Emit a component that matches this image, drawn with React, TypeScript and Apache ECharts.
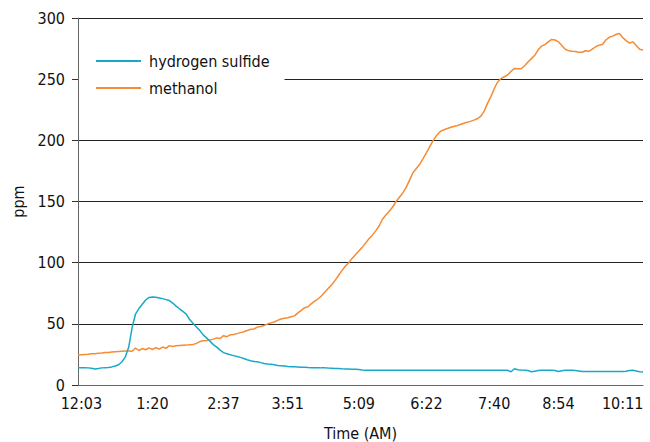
import React, { useEffect, useRef } from "react";
import * as echarts from "echarts";

const seriesNames = ["hydrogen sulfide", "methanol"];

const tickLabels = ["12:03", "1:20", "2:37", "3:51", "5:09", "6:22", "7:40", "8:54", "10:11"];
const tickSamples = [1, 22, 43, 62, 83, 103, 123, 142, 161];

const hydrogenSulfide = [
  14.2, 14.2, 14.2, 14, 13.6, 13.1, 13.5, 14, 14.2, 14.4,
  14.8, 15.5, 16.5, 19, 23, 31, 47, 58, 62.5, 66,
  69.5, 71.6, 72, 71.8, 71.2, 70.6, 69.8, 69, 67, 64.5,
  62.3, 60.2, 58, 53.5, 50.5, 47.5, 44.5, 41, 38.5, 35.8,
  33, 31, 28.5, 26.5, 25.5, 24.7, 24, 23.3, 22.6, 21.6,
  20.6, 19.8, 19.3, 19, 18.3, 17.6, 17.1, 16.9, 16.5, 16,
  15.8, 15.5, 15.2, 15, 15, 14.8, 14.5, 14.5, 14.3, 14.2,
  14.2, 14.2, 14, 14, 13.8, 13.7, 13.5, 13.4, 13.2, 13.1,
  13, 12.9, 12.8, 12.6, 12.3, 12.1, 12, 12, 12, 12,
  12, 12, 12, 12, 12, 12, 12, 12, 12, 12,
  12, 12, 12, 12, 12, 12, 12, 12, 12, 12,
  12, 12, 12, 12, 12, 12, 12, 12, 12, 12,
  12, 12, 12, 12, 12, 12, 12, 12, 10.8, 13.3,
  12.5, 12.2, 12, 11.8, 10.8, 11.3, 11.8, 12, 12, 12,
  12, 11.8, 11.1, 11.6, 12, 12, 12, 11.9, 11.5, 11.1,
  11, 11, 11, 11, 11, 11, 11, 11, 11, 11,
  11, 11, 11.2, 11.8, 12, 11.4, 10.9, 10.7,
];

const methanol = [
  24.5, 24.8, 25, 25.2, 25.5, 25.6, 26, 26.2, 26.5, 26.6,
  27, 27.2, 27.4, 27.6, 27.8, 27.8, 27.6, 30.2, 28.2, 29.8,
  28.8, 30.4, 29, 30.6, 29.4, 31, 30, 32.2, 31.5, 32,
  32.3, 32.5, 32.6, 33, 33.2, 34, 35.5, 36.2, 36.4, 36.8,
  37.5, 38.5, 38, 40.3, 39.5, 41, 41.3, 42, 42.8, 43.5,
  44.5, 45.5, 45.8, 47.3, 47.8, 48.7, 49.8, 50.8, 51.5, 52.8,
  54, 54.6, 55, 55.8, 56.5, 59, 61, 63.2, 64, 66.5,
  68.5, 70.5, 73, 76, 79, 82, 85.5, 89.5, 93.5, 97,
  100, 103.5, 106.5, 109.5, 112.5, 116, 119.5, 122.5, 126, 130,
  135.5, 139, 142, 145.5, 150, 153.5, 157, 161.5, 167.5, 173.5,
  177, 180.5, 185, 190, 195, 200, 204, 207, 208.5, 209.5,
  210.5, 211.3, 212, 213, 214, 214.7, 215.5, 216.5, 217.6, 219.5,
  223.5, 230, 235.5, 242, 247.5, 250.5, 252, 253.5, 256.5, 258.8,
  258.5, 258.5, 261, 264, 266.8, 269.5, 274, 277, 278.2, 280.5,
  282.5, 282, 280.5, 277.5, 274.5, 273.3, 272.8, 272.6, 272, 272,
  273.2, 272.8, 274.5, 276.5, 277.8, 278.3, 282, 284.2, 285.2, 286.5,
  287.3, 284, 281.5, 279.5, 280.5, 277.5, 274.5, 273.8,
];

const yTicks = { min: 0, max: 300, step: 50 };

const FONT = "'Liberation Sans Narrow', 'DejaVu Sans Condensed', 'Roboto Condensed', Roboto, sans-serif";

export default function App() {
  const ref = useRef<HTMLDivElement>(null);

  useEffect(() => {
    if (!ref.current) return;
    const chart = echarts.init(ref.current, null, { renderer: "svg" });
    const n = methanol.length;
    const categories: string[] = new Array(n).fill("");
    tickSamples.forEach((s, k) => {
      categories[s] = tickLabels[k];
    });

    chart.setOption({
      animation: false,
      backgroundColor: "#fff",
      textStyle: { fontFamily: FONT },
      grid: {
        left: 78,
        right: 7,
        top: 18,
        bottom: 57,
        containLabel: false,
        outerBoundsMode: "none",
      },
      legend: {
        orient: "vertical",
        left: 79,
        top: 45,
        backgroundColor: "#fff",
        padding: [7, 15, 7, 17],
        itemWidth: 45,
        itemHeight: 2,
        itemGap: 9,
        icon: "rect",
        textStyle: {
          fontFamily: FONT,
          fontSize: 16,
          color: "#111",
          lineHeight: 18,
          padding: [0, 0, 0, 3],
        },
        data: seriesNames,
      },
      xAxis: {
        type: "category",
        data: categories,
        boundaryGap: false,
        name: "Time (AM)",
        nameLocation: "middle",
        nameGap: 40,
        nameTextStyle: { fontFamily: FONT, fontSize: 16, color: "#111" },
        axisLine: { show: true, lineStyle: { color: "#666", width: 1 } },
        axisTick: { show: false },
        axisLabel: {
          interval: 0,
          margin: 10,
          fontFamily: FONT,
          fontSize: 16,
          color: "#111",
        },
        splitLine: { show: false },
      },
      yAxis: {
        type: "value",
        min: yTicks.min,
        max: yTicks.max,
        interval: yTicks.step,
        name: "ppm",
        nameLocation: "middle",
        nameGap: 50,
        nameTextStyle: { fontFamily: FONT, fontSize: 16, color: "#111" },
        axisLine: { show: true, lineStyle: { color: "#666", width: 1 } },
        axisTick: { show: true, length: 6, lineStyle: { color: "#333" } },
        axisLabel: { margin: 13, fontFamily: FONT, fontSize: 16, color: "#111" },
        splitLine: { show: true, lineStyle: { color: "#222", width: 1 } },
      },
      series: [
        {
          name: seriesNames[0],
          type: "line",
          data: hydrogenSulfide,
          symbol: "none",
          lineStyle: { color: "#19A9C8", width: 1.5 },
          itemStyle: { color: "#19A9C8" },
          z: 3,
        },
        {
          name: seriesNames[1],
          type: "line",
          data: methanol,
          symbol: "none",
          lineStyle: { color: "#F68B33", width: 1.5 },
          itemStyle: { color: "#F68B33" },
          z: 2,
        },
      ],
    });

    return () => chart.dispose();
  }, []);

  return <div ref={ref} style={{ width: 650, height: 442, position: "absolute", left: 0, top: 0 }} />;
}
